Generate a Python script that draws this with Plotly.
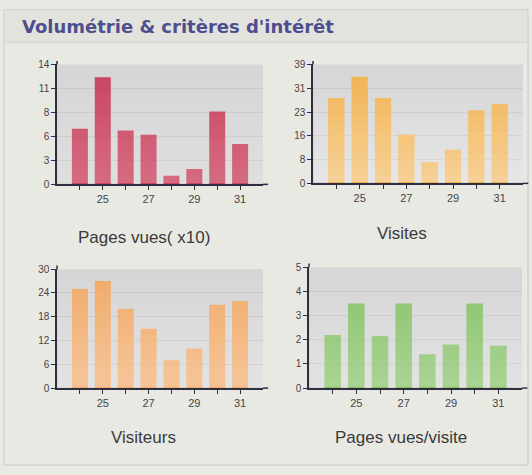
import plotly.graph_objects as go

# ---------------- data ----------------
days = [24, 25, 26, 27, 28, 29, 30, 31]
day_ticktext = ["", "25", "", "27", "", "29", "", "31"]

pages_vues_x10 = [6.5, 12.5, 6.3, 5.8, 1.0, 1.8, 8.5, 4.7]
visites = [28, 35, 28, 16, 7, 11, 24, 26]
visiteurs = [25, 27, 20, 15, 7, 10, 21, 22]
pages_par_visite = [2.2, 3.5, 2.15, 3.5, 1.4, 1.8, 3.5, 1.75]

pages_tickvals = [0, 2.8, 5.6, 8.4, 11.2, 14]
pages_ticktext = ["0", "3", "6", "8", "11", "14"]
visites_tickvals = [0, 7.8, 15.6, 23.4, 31.2, 39]
visites_ticktext = ["0", "8", "16", "23", "31", "39"]
visiteurs_tickvals = [0, 6, 12, 18, 24, 30]
visiteurs_ticktext = ["0", "6", "12", "18", "24", "30"]
ppv_tickvals = [0, 1, 2, 3, 4, 5]
ppv_ticktext = ["0", "1", "2", "3", "4", "5"]

chart_titles = ["Pages vues( x10)", "Visites", "Visiteurs", "Pages vues/visite"]
main_title = "Volumétrie & critères d'intérêt"

# ---------------- layout helpers ----------------
W, H = 532, 475


def px_x(v):
    return v / W


def px_y(v):
    return 1 - v / H


series = [pages_vues_x10, visites, visiteurs, pages_par_visite]
tickvals = [pages_tickvals, visites_tickvals, visiteurs_tickvals, ppv_tickvals]
ticktexts = [pages_ticktext, visites_ticktext, visiteurs_ticktext, ppv_ticktext]
colors = ["#c9435f", "#f0b250", "#f1aa68", "#86c268"]
wash = [0.22, 0.4, 0.32, 0.3]
xdomains = [(57, 263), (313, 523), (57, 263), (309, 522)]
ydomains = [(183, 60), (182, 60), (392, 270), (392, 268)]
title_pos = [(144, 237), (402, 233), (143, 443), (401, 443)]

fig = go.Figure()
layout = dict(
    width=W, height=H, autosize=False,
    margin=dict(l=0, r=0, t=0, b=0),
    paper_bgcolor="#e9e9e4",
    plot_bgcolor="#d6d6d6",
    showlegend=False,
    font=dict(family="Liberation Sans, Arial, sans-serif", color="#444"),
    bargap=0.3,
)
shapes = []
annotations = []

for i in range(4):
    n = "" if i == 0 else str(i + 1)
    xa, ya = "x" + n, "y" + n
    fig.add_trace(go.Bar(
        x=days, y=series[i], xaxis=xa, yaxis=ya,
        marker=dict(color=colors[i], line=dict(width=0)),
        width=0.7,
    ))
    axis_line = "#2e2e40"
    layout["xaxis" + n] = dict(
        domain=[px_x(xdomains[i][0]), px_x(xdomains[i][1])],
        anchor=ya, range=[23, 32],
        tickvals=days, ticktext=day_ticktext,
        ticks="outside", ticklen=4, tickcolor=axis_line,
        showline=True, linecolor=axis_line, linewidth=1.5,
        showgrid=False, zeroline=False,
        tickfont=dict(size=11, color="#444"),
        fixedrange=True,
    )
    yr = tickvals[i][-1]
    layout["yaxis" + n] = dict(
        domain=[px_y(ydomains[i][0]), px_y(ydomains[i][1])],
        anchor=xa, range=[0, yr],
        tickvals=tickvals[i], ticktext=ticktexts[i],
        ticks="outside", ticklen=4, tickcolor=axis_line,
        showline=True, linecolor=axis_line, linewidth=1.5,
        showgrid=True, gridcolor="#c6c6c6", gridwidth=1,
        zeroline=False,
        tickfont=dict(size=10, color="#444"),
        fixedrange=True,
    )
    # light wash towards the bottom of each plot area (background + bars)
    nb = 16
    for k in range(nb):
        y0 = 0.012 + (1 - 0.012) * k / nb
        y1 = 0.012 + (1 - 0.012) * (k + 1) / nb
        op = wash[i] * (1 - (k + 0.5) / nb)
        shapes.append(dict(
            type="rect", xref=xa + " domain", yref=ya + " domain",
            x0=0.004, x1=1, y0=y0, y1=y1,
            fillcolor="rgba(255,255,255,%.3f)" % op,
            line=dict(width=0), layer="above",
        ))
    # axis overshoot to the right and top
    shapes.append(dict(
        type="line", xref=xa + " domain", yref=ya + " domain",
        x0=1, x1=1.025, y0=0, y1=0,
        line=dict(color=axis_line, width=1.5),
    ))
    shapes.append(dict(
        type="line", xref=xa + " domain", yref=ya + " domain",
        x0=0, x1=0, y0=1, y1=1.03,
        line=dict(color=axis_line, width=1.5),
    ))
    annotations.append(dict(
        text=chart_titles[i], xref="paper", yref="paper",
        x=px_x(title_pos[i][0]), y=px_y(title_pos[i][1]),
        xanchor="center", yanchor="middle", showarrow=False,
        font=dict(size=17, color="#3a3a3a",
                  family="Liberation Sans, Arial, sans-serif"),
    ))

# header band and frame
shapes.append(dict(type="rect", xref="paper", yref="paper",
                   x0=px_x(4), x1=px_x(528), y0=px_y(471), y1=px_y(4),
                   line=dict(color="#c9c9c2", width=1), fillcolor="rgba(0,0,0,0)",
                   layer="below"))
shapes.append(dict(type="rect", xref="paper", yref="paper",
                   x0=px_x(5), x1=px_x(527), y0=px_y(37), y1=px_y(5),
                   line=dict(width=0), fillcolor="#e3e3dd", layer="below"))
shapes.append(dict(type="line", xref="paper", yref="paper",
                   x0=px_x(5), x1=px_x(527), y0=px_y(37), y1=px_y(37),
                   line=dict(color="#cfcfc8", width=1), layer="below"))

annotations.append(dict(
    text="<b>" + main_title + "</b>", xref="paper", yref="paper",
    x=px_x(20), y=px_y(21), xanchor="left", yanchor="middle",
    showarrow=False,
    font=dict(size=18, color="#4e4e8e", family="DejaVu Sans, Verdana, sans-serif"),
))

layout["shapes"] = shapes
layout["annotations"] = annotations
fig.update_layout(**layout)

fig.write_html(
    "out.html",
    config={"displayModeBar": False},
    post_script="document.body.style.margin='0';"
                "document.body.style.background='#e9e9e4';",
)
